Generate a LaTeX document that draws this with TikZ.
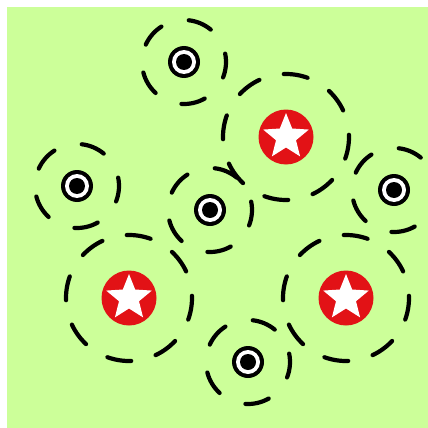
\documentclass[tikz,border=0pt]{standalone}
\definecolor{bg}{RGB}{204,255,153}
\definecolor{starred}{RGB}{226,18,22}
\tikzset{
  ring/.style={draw=black, line width=4.2pt, line cap=round},
  targetdisc/.style={circle, fill=black, minimum size=32pt, inner sep=0pt},
  reddisc/.style={circle, fill=starred, minimum size=55pt, inner sep=0pt},
}
% #1 node, #2 radius, #3 count, #4 first centre angle, #5 angular width
\newcommand\dashring[5]{%
  \foreach \k in {1,...,#3}{%
    \draw[ring] (#1) ++({#4+360/#3*\k-#5/2}:#2) arc[start angle={#4+360/#3*\k-#5/2}, delta angle=#5, radius=#2];
  }%
}
\newcommand\targetmark[2]{%
  \node[targetdisc] (#1) at (#2) {};
  \fill[white] (#2) circle (12);
  \fill[black] (#2) circle (8);
}
\newcommand\starmark[2]{%
  \node[reddisc] (#1) at (#2) {};
  \fill[white] ([shift={(-90:24)}]#2)
    \foreach \k in {0,...,4}{
      -- ([shift={({-54+72*\k}:10.5)}]#2)
      -- ([shift={({-18+72*\k}:24)}]#2)
    } -- cycle;
}
\begin{document}
\begin{tikzpicture}[x=1pt,y=-1pt]
  \useasboundingbox (0,0) rectangle (428,428);
  \clip (0,0) rectangle (428,428);
  \fill[white] (0,0) rectangle (428,428);
  \fill[bg] (7,7) rectangle (428,428);
  % centres
  \coordinate (ct1) at (184,62);
  \coordinate (ct2) at (77,186);
  \coordinate (ct3) at (210,210);
  \coordinate (ct4) at (394,190);
  \coordinate (ct5) at (248,362);
  \coordinate (cs1) at (286,137);
  \coordinate (cs2) at (129,298);
  \coordinate (cs3) at (346,298);
  % dashed rings
  \dashring{ct1}{42}{5}{5}{33}
  \dashring{ct2}{42}{5}{5}{33}
  \dashring{ct3}{42}{5}{5}{33}
  \dashring{ct4}{42}{5}{5}{33}
  \dashring{ct5}{42}{5}{5}{33}
  \dashring{cs1}{63}{8}{9}{22}
  \dashring{cs2}{63}{8}{9}{22}
  \dashring{cs3}{63}{8}{9}{22}
  % marks
  \targetmark{t1}{ct1}
  \targetmark{t2}{ct2}
  \targetmark{t3}{ct3}
  \targetmark{t4}{ct4}
  \targetmark{t5}{ct5}
  \starmark{s1}{cs1}
  \starmark{s2}{cs2}
  \starmark{s3}{cs3}
\end{tikzpicture}
\end{document}
